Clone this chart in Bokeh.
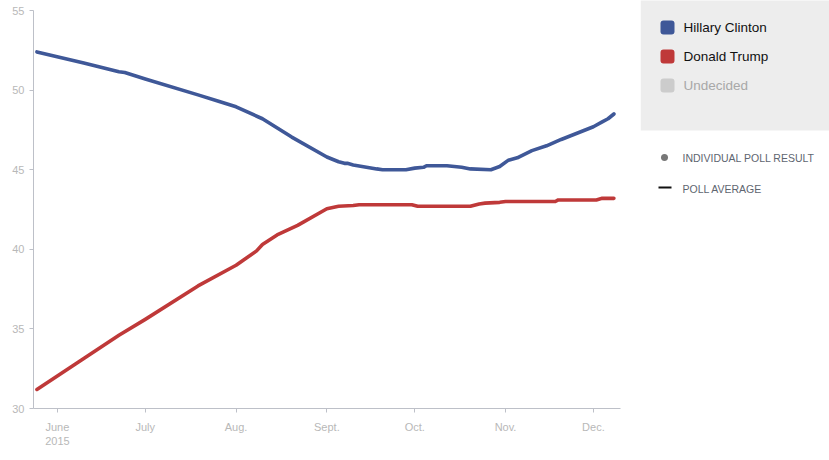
import pandas as pd
from bokeh.plotting import figure
from bokeh.layouts import row
from bokeh.models import FixedTicker, ColumnDataSource
from bokeh.core.properties import value
from bokeh.embed import file_html
from bokeh.resources import INLINE

# ---- data ----
clinton_dates = ["2015-05-25", "2015-06-10", "2015-06-22", "2015-06-24", "2015-07-01",
                 "2015-07-19", "2015-07-26", "2015-08-01", "2015-08-10", "2015-08-20",
                 "2015-09-01", "2015-09-05", "2015-09-07", "2015-09-08", "2015-09-10",
                 "2015-09-18", "2015-09-20", "2015-09-28", "2015-10-01", "2015-10-04",
                 "2015-10-05", "2015-10-12", "2015-10-17", "2015-10-20", "2015-10-27",
                 "2015-10-30", "2015-11-02", "2015-11-05", "2015-11-10", "2015-11-15",
                 "2015-11-20", "2015-12-01", "2015-12-04", "2015-12-06", "2015-12-08"]
clinton_vals = [52.4, 51.7, 51.15, 51.1, 50.7,
                49.7, 49.3, 48.95, 48.2, 47.05,
                45.8, 45.5, 45.4, 45.4, 45.3,
                45.05, 45.0, 45.0, 45.1, 45.15,
                45.25, 45.25, 45.15, 45.05, 45.0,
                45.2, 45.6, 45.75, 46.2, 46.5,
                46.9, 47.7, 48.0, 48.2, 48.5]

trump_dates = ["2015-05-25", "2015-06-22", "2015-07-01", "2015-07-19", "2015-08-01",
               "2015-08-08", "2015-08-10", "2015-08-15", "2015-08-22", "2015-09-01",
               "2015-09-05", "2015-09-10", "2015-09-12", "2015-09-30", "2015-10-02",
               "2015-10-20", "2015-10-23", "2015-10-25", "2015-10-30", "2015-11-01",
               "2015-11-18", "2015-11-19", "2015-12-02", "2015-12-04", "2015-12-08"]
trump_vals = [31.2, 34.6, 35.6, 37.7, 39.0,
              39.9, 40.3, 40.9, 41.5, 42.55,
              42.7, 42.75, 42.8, 42.8, 42.7,
              42.7, 42.85, 42.9, 42.95, 43.0,
              43.0, 43.1, 43.1, 43.2, 43.2]

tick_dates = ["2015-06-01", "2015-07-01", "2015-08-01", "2015-09-01",
              "2015-10-01", "2015-11-01", "2015-12-01"]
tick_labels = ["June\n2015", "July", "Aug.", "Sept.", "Oct.", "Nov.", "Dec."]
y_ticks = [30, 35, 40, 45, 50, 55]

legend_names = ["Hillary Clinton", "Donald Trump", "Undecided"]
legend_colors = ["#3F5898", "#BF3939", "#CCCCCC"]
legend_text_colors = ["#111111", "#111111", "#A8A8A8"]


def to_ms(ds):
    return list(pd.to_datetime(ds).astype("int64") // 10**6)


AXIS_COLOR = "#BDC0C8"
LABEL_COLOR = "#B8B8B8"
FONT = "Liberation Sans"

x_start = pd.Timestamp("2015-05-23 20:00").value // 10**6
x_end = pd.Timestamp("2015-12-10 06:00").value // 10**6

p = figure(width=640, height=460, output_backend="svg", toolbar_location=None,
           x_range=(x_start, x_end), y_range=(30, 55),
           min_border_left=33, min_border_right=20, min_border_top=10, min_border_bottom=52)
p.outline_line_color = None
p.grid.grid_line_color = None
p.frame_align = False

p.line(to_ms(clinton_dates), clinton_vals, line_color=legend_colors[0], line_width=3.6,
       line_join="round", line_cap="round")
p.line(to_ms(trump_dates), trump_vals, line_color=legend_colors[1], line_width=3.6,
       line_join="round", line_cap="round")

tick_ms = to_ms(tick_dates)
p.xaxis.ticker = FixedTicker(ticks=tick_ms)
p.xaxis.major_label_overrides = {int(t): lab for t, lab in zip(tick_ms, tick_labels)}
p.yaxis.ticker = FixedTicker(ticks=y_ticks)

for ax in (p.xaxis[0], p.yaxis[0]):
    ax.axis_line_color = AXIS_COLOR
    ax.major_tick_line_color = AXIS_COLOR
    ax.major_tick_out = 4
    ax.major_tick_in = 0
    ax.minor_tick_line_color = None
    ax.major_label_text_color = LABEL_COLOR
    ax.major_label_text_font = FONT
    ax.major_label_text_font_size = "11px"
p.xaxis.major_label_standoff = 8
p.yaxis.major_label_standoff = 5

# ---- legend panel ----
q = figure(width=189, height=460, output_backend="svg", toolbar_location=None,
           x_range=(640, 829), y_range=(460, 0), min_border=0)
q.outline_line_color = None
q.grid.grid_line_color = None
q.xaxis.visible = False
q.yaxis.visible = False
q.frame_align = False

q.quad(left=[640], right=[829], top=[-5], bottom=[130], fill_color="#EDEDED", line_color=None)

ys = [27, 56, 85]
src = ColumnDataSource(dict(x=[667] * 3, y=ys, c=legend_colors, t=legend_names,
                            tx=[683] * 3, tc=legend_text_colors))
q.rect(x="x", y="y", width=14, height=14, fill_color="c", line_color=None,
       border_radius=3, source=src)
q.text(x="tx", y="y", text="t", text_color="tc", text_font=value(FONT),
       text_font_size="13.5px", text_baseline="middle", source=src)

q.scatter(x=[664], y=[157], size=7, fill_color="#777777", line_color=None)
q.segment(x0=[658], y0=[187], x1=[671], y1=[187], line_color="#111111", line_width=2)
q.text(x=[682, 682], y=[157, 188], text=["INDIVIDUAL POLL RESULT", "POLL AVERAGE"],
       text_font=value(FONT), text_font_size="10.5px", text_color="#5E6570",
       text_baseline="middle")

layout = row(p, q, spacing=0)
open("out.html", "w").write(file_html(layout, INLINE))
